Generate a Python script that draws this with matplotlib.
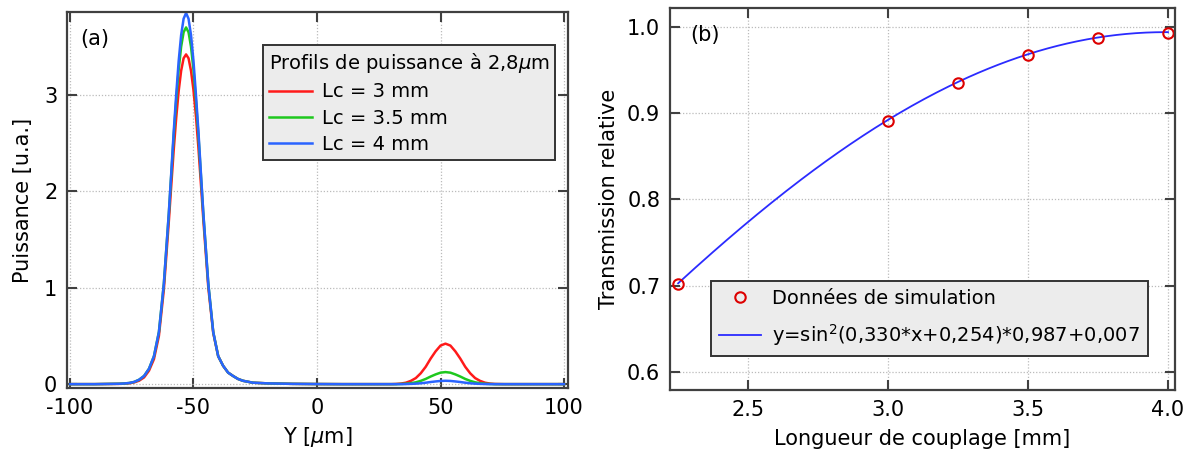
import numpy as np
import matplotlib
matplotlib.use("Agg")
import matplotlib.pyplot as plt
from matplotlib.ticker import FormatStrFormatter

# ---- panel (a) : power profiles at 2.8 um ----
y_pos = [-100, -90, -80, -78, -76, -74, -72, -70, -68, -66, -64, -62, -60, -59, -58,
         -57, -56, -55, -54, -53, -52, -51, -50, -49, -48, -47, -46, -44, -42, -40,
         -38, -36, -34, -32, -30, -26, -20, -10, 0, 10, 20, 30, 32, 34, 36, 38, 40,
         42, 44, 46, 48, 50, 52, 54, 56, 58, 60, 62, 64, 66, 68, 70, 72, 76, 80, 90, 100]

p_3mm = [0, 0, 0.003, 0.005, 0.009, 0.018, 0.036, 0.07, 0.14, 0.26, 0.50, 0.98, 1.68, 2.06, 2.43,
         2.76, 3.04, 3.25, 3.38, 3.42, 3.38, 3.25, 3.05, 2.78, 2.45, 2.08, 1.70, 1.00, 0.53, 0.29,
         0.19, 0.12, 0.085, 0.054, 0.035, 0.015, 0.008, 0.003, 0.001, 0, 0, 0, 0.002, 0.006, 0.015, 0.034, 0.063,
         0.113, 0.18, 0.265, 0.34, 0.40, 0.42, 0.40, 0.34, 0.265, 0.18, 0.113, 0.063, 0.034, 0.015, 0.006, 0.002, 0, 0, 0, 0]

p_35mm = [0, 0, 0.004, 0.007, 0.012, 0.023, 0.046, 0.085, 0.16, 0.29, 0.54, 1.04, 1.76, 2.17, 2.58,
          2.94, 3.26, 3.50, 3.65, 3.70, 3.65, 3.50, 3.26, 2.94, 2.58, 2.17, 1.76, 1.04, 0.54, 0.29,
          0.19, 0.12, 0.085, 0.054, 0.035, 0.015, 0.008, 0.003, 0.001, 0, 0, 0, 0, 0.002, 0.004, 0.010, 0.019,
          0.034, 0.054, 0.079, 0.101, 0.119, 0.125, 0.119, 0.101, 0.079, 0.054, 0.034, 0.019, 0.010, 0.004, 0.002, 0, 0, 0, 0, 0]

p_4mm = [0, 0, 0.004, 0.007, 0.012, 0.023, 0.046, 0.085, 0.16, 0.29, 0.54, 1.04, 1.77, 2.19, 2.62,
         3.00, 3.35, 3.62, 3.79, 3.85, 3.79, 3.62, 3.35, 3.00, 2.62, 2.19, 1.77, 1.04, 0.54, 0.29,
         0.19, 0.12, 0.085, 0.054, 0.035, 0.015, 0.008, 0.003, 0.001, 0, 0, 0, 0, 0, 0.001, 0.003, 0.005,
         0.009, 0.015, 0.022, 0.028, 0.033, 0.035, 0.033, 0.028, 0.022, 0.015, 0.009, 0.005, 0.003, 0.001, 0, 0, 0, 0, 0, 0]

# ---- panel (b) : relative transmission vs coupling length ----
lc_mm = [2.25, 3.0, 3.25, 3.5, 3.75, 4.0]
trans = [0.702, 0.891, 0.935, 0.968, 0.987, 0.993]
# fit parameters as written in the legend
fit_a, fit_b, fit_c, fit_d = 0.330, 0.254, 0.987, 0.007

plt.rcParams['font.family'] = ['DejaVu Sans']
plt.rcParams['font.size'] = 15
plt.rcParams['mathtext.fontset'] = 'dejavusans'
plt.rcParams['axes.unicode_minus'] = False

spine_col = '#404040'
fig = plt.figure(figsize=(11.88, 4.53), dpi=100)
ax1 = fig.add_axes([67/1188, 1-388/453, 501/1188, 376/453])
ax2 = fig.add_axes([670/1188, 1-390/453, 505/1188, 382/453])

def style(ax):
	for s in ax.spines.values():
		s.set_color(spine_col)
		s.set_linewidth(1.6)
	ax.tick_params(direction='in', top=True, right=True, length=7, width=1.5,
		color=spine_col, labelsize=15, pad=7)
	ax.grid(True, linestyle=(0, (1, 1.5)), color='#bbbbbb', linewidth=0.9)
	ax.set_axisbelow(True)

style(ax1)
ax1.plot(y_pos, p_3mm, color='#ff1a1a', lw=1.8, label='Lc = 3 mm')
ax1.plot(y_pos, p_35mm, color='#1ec81e', lw=1.8, label='Lc = 3.5 mm')
ax1.plot(y_pos, p_4mm, color='#2a64ff', lw=1.8, label='Lc = 4 mm')
ax1.set_xlim(-101.2, 101.6)
ax1.set_ylim(-0.04, 3.86)
ax1.set_xticks([-100, -50, 0, 50, 100])
ax1.set_yticks([0, 1, 2, 3])
ax1.set_xlabel(r'Y [$\mu$m]', fontsize=15, labelpad=5)
ax1.set_ylabel('Puissance [u.a.]', fontsize=15, labelpad=8)
ax1.text(0.027, 0.955, '(a)', transform=ax1.transAxes, fontsize=15, va='top')
leg1 = ax1.legend(loc='upper left', bbox_to_anchor=(0.391, 0.912), title=r'Profils de puissance à 2,8$\mu$m',
	fontsize=14, title_fontsize=14, alignment='left', fancybox=False, framealpha=1,
	facecolor='#ececec', edgecolor='#333333', borderaxespad=0, handlelength=2.2,
	handletextpad=0.55, labelspacing=0.38, borderpad=0.3)
leg1.get_frame().set_linewidth(1.4)

style(ax2)
xs = np.linspace(2.25, 4.0, 200)
ax2.plot(xs, np.sin(fit_a*xs + fit_b)**2*fit_c + fit_d, color='#2b2bff', lw=1.3,
	label=r'y=sin$^{2}$(0,330*x+0,254)*0,987+0,007')
ax2.plot(lc_mm, trans, 'o', mfc='none', mec='#dd0000', ms=7.5, mew=1.5, ls='none',
	label='Données de simulation')
ax2.set_xlim(2.221, 4.025)
ax2.set_ylim(0.579, 1.022)
ax2.set_xticks([2.5, 3.0, 3.5, 4.0])
ax2.set_yticks([0.6, 0.7, 0.8, 0.9, 1.0])
ax2.xaxis.set_major_formatter(FormatStrFormatter('%.1f'))
ax2.yaxis.set_major_formatter(FormatStrFormatter('%.1f'))
ax2.set_xlabel('Longueur de couplage [mm]', fontsize=15, labelpad=7)
ax2.set_ylabel('Transmission relative', fontsize=15, labelpad=6)
ax2.text(0.04, 0.955, '(b)', transform=ax2.transAxes, fontsize=15, va='top')
h, l = ax2.get_legend_handles_labels()
leg2 = ax2.legend(h[::-1], l[::-1], loc='lower left', bbox_to_anchor=(0.081, 0.089),
	fontsize=14, fancybox=False, framealpha=1, facecolor='#ececec', edgecolor='#333333',
	borderaxespad=0, handlelength=2.2, handletextpad=0.55, labelspacing=0.75, borderpad=0.4)
leg2.get_frame().set_linewidth(1.4)

fig.savefig('out.png', dpi=100)
